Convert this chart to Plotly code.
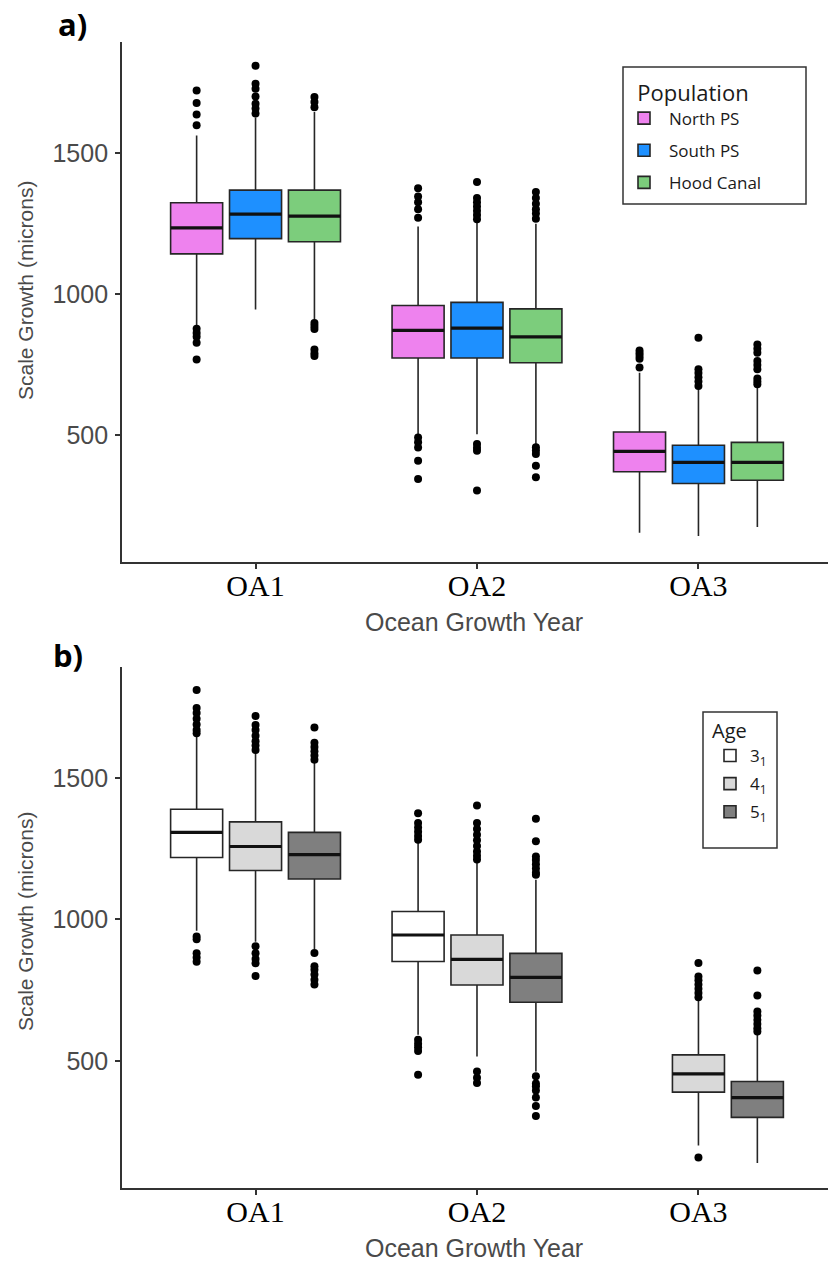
import plotly.graph_objects as go

# ---------------- data ----------------
years = ["OA1", "OA2", "OA3"]

# Panel a) populations
populations = ["North PS", "South PS", "Hood Canal"]
population_colors = ["#EE82EE", "#1E90FF", "#7CCD7C"]

# per year (OA1, OA2, OA3): [lower whisker, Q1, median, Q3, upper whisker]
north_ps_box = [[890, 1142, 1234, 1323, 1562],
                [500, 773, 871, 959, 1239],
                [154, 370, 442, 511, 721]]
north_ps_outliers = [[1721, 1677, 1636, 1598, 877, 862, 848, 827, 768],
                     [1375, 1345, 1325, 1300, 1270, 491, 474, 456, 409, 344],
                     [800, 790, 780, 770, 739]]

south_ps_box = [[945, 1196, 1283, 1368, 1625],
                [503, 773, 879, 970, 1257],
                [142, 328, 403, 464, 662]]
south_ps_outliers = [[1809, 1745, 1727, 1700, 1674, 1657, 1640],
                     [1397, 1340, 1325, 1310, 1295, 1280, 1265, 468, 455, 444, 303],
                     [845, 733, 720, 705, 690, 674]]

hood_canal_box = [[909, 1185, 1276, 1368, 1645],
                  [468, 756, 848, 947, 1249],
                  [174, 340, 403, 474, 670]]
hood_canal_outliers = [[1698, 1680, 1662, 897, 886, 876, 803, 790, 780],
                       [1361, 1340, 1320, 1300, 1285, 1267, 457, 445, 433, 391, 350],
                       [821, 806, 792, 762, 748, 733, 700, 690, 680]]

# Panel b) ages
ages = ["3<sub>1</sub>", "4<sub>1</sub>", "5<sub>1</sub>"]
age_colors = ["#FFFFFF", "#D9D9D9", "#7F7F7F"]

age3_box = [[960, 1219, 1308, 1390, 1647],
            [592, 851, 945, 1028, 1276],
            None]
age3_outliers = [[1812, 1748, 1730, 1710, 1690, 1670, 1659, 940, 930, 880, 865, 850],
                 [1376, 1341, 1325, 1310, 1295, 1282, 574, 560, 548, 535, 451],
                 []]

age4_box = [[921, 1173, 1258, 1345, 1594],
            [515, 768, 859, 945, 1211],
            [200, 389, 454, 521, 716]]
age4_outliers = [[1720, 1688, 1670, 1650, 1630, 1615, 1599, 905, 880, 860, 845, 800],
                 [1403, 1341, 1320, 1300, 1280, 1260, 1240, 1225, 1212, 462, 440, 421],
                 [846, 798, 785, 770, 755, 740, 725, 158]]

age5_box = [[895, 1143, 1229, 1308, 1555],
            [462, 707, 795, 880, 1140],
            [138, 300, 370, 427, 598]]
age5_outliers = [[1679, 1625, 1610, 1595, 1580, 1565, 881, 834, 822, 805, 787, 770],
                 [1356, 1277, 1223, 1210, 1195, 1180, 1165, 1158, 445, 420, 410, 395, 370, 340, 305],
                 [819, 731, 674, 660, 645, 630, 615, 604]]

y_ticks = [500, 1000, 1500]

# ---------------- style ----------------
W, H = 828, 1266
BOX_W = 0.235
DODGE = 0.266
LINE = "#262626"
AX = "#333333"
TXT = "#4a4a4a"
SANS = "Liberation Sans, Arial, sans-serif"
SERIF = "Liberation Serif, Times New Roman, serif"
LEG = "Open Sans, sans-serif"

fig = go.Figure()


def add_panel(names, colors, boxes, outliers, xa, ya, legend):
    n = len(names)
    for k in range(n):
        off = (k - (n - 1) / 2) * DODGE
        xs, lo, q1, med, q3, hi = [], [], [], [], [], []
        ox, oy = [], []
        mx, my = [], []
        for j, b in enumerate(boxes[k]):
            if b is None:
                continue
            x = j + 1 + off
            xs.append(x)
            lo.append(b[0]); q1.append(b[1]); med.append(b[2]); q3.append(b[3]); hi.append(b[4])
            for v in outliers[k][j]:
                ox.append(x)
                oy.append(v)
            mx += [x - BOX_W / 2, x + BOX_W / 2, None]
            my += [b[2], b[2], None]
        fig.add_trace(go.Box(
            x=xs, q1=q1, median=med, q3=q3, lowerfence=lo, upperfence=hi,
            width=BOX_W, whiskerwidth=0, boxpoints=False,
            fillcolor=colors[k], line=dict(color=LINE, width=1.6),
            name=names[k], legend=legend, legendgroup=legend + str(k),
            xaxis=xa, yaxis=ya, hoverinfo="skip"))
        fig.add_trace(go.Scatter(
            x=mx, y=my, mode="lines", line=dict(color="#111111", width=3.2),
            showlegend=False, hoverinfo="skip", xaxis=xa, yaxis=ya))
        fig.add_trace(go.Scatter(
            x=ox, y=oy, mode="markers",
            marker=dict(color="black", size=8, line=dict(width=0)),
            showlegend=False, hoverinfo="skip", xaxis=xa, yaxis=ya))


add_panel(populations, population_colors,
          [north_ps_box, south_ps_box, hood_canal_box],
          [north_ps_outliers, south_ps_outliers, hood_canal_outliers],
          "x", "y", "legend")
add_panel(ages, age_colors,
          [age3_box, age4_box, age5_box],
          [age3_outliers, age4_outliers, age5_outliers],
          "x2", "y2", "legend2")

x_dom = [122 / W, 1.0]
x_rng = [0.397, 3.585]
y_rng = [50, 1893]


def xaxis_style(anchor):
    return dict(domain=x_dom, range=x_rng, anchor=anchor,
                tickvals=[1, 2, 3], ticktext=years,
                showline=True, linecolor=AX, linewidth=1.8,
                ticks="outside", ticklen=5, tickwidth=1.5, tickcolor=AX,
                showgrid=False, zeroline=False, automargin=False,
                tickfont=dict(family=SERIF, size=30, color="black"),
                ticklabelstandoff=-9, fixedrange=True)


def yaxis_style(dom, anchor):
    return dict(domain=dom, range=y_rng, anchor=anchor,
                tickvals=y_ticks, ticktext=[str(v) for v in y_ticks],
                showline=True, linecolor=AX, linewidth=1.8,
                ticks="outside", ticklen=5, tickwidth=1.5, tickcolor=AX,
                showgrid=False, zeroline=False, automargin=False,
                tickfont=dict(family=SANS, size=25, color=TXT),
                ticklabelstandoff=2, fixedrange=True)


def legend_style(x, y, title, tsize, gap, iw, side):
    return dict(x=x, y=y, xanchor="left", yanchor="top",
                bgcolor="rgba(0,0,0,0)", borderwidth=0,
                font=dict(family=LEG, size=17, color="#1a1a1a"),
                title=dict(text=title, side=side,
                           font=dict(family=LEG, size=tsize, color="#1a1a1a")),
                tracegroupgap=gap, itemwidth=iw,
                itemclick=False, itemdoubleclick=False)


annotations = []
for txt, px, py in [("a)", 72, 24), ("b)", 68, 655)]:
    annotations.append(dict(text=txt, x=px / W, y=1 - py / H, xref="paper", yref="paper",
                            showarrow=False, xanchor="center", yanchor="middle",
                            font=dict(family=LEG, size=31, color="black", weight=700)))
for py in [291, 922]:
    annotations.append(dict(text="Scale Growth (microns)", x=25 / W, y=1 - py / H,
                            xref="paper", yref="paper", showarrow=False, textangle=-90,
                            xanchor="center", yanchor="middle",
                            font=dict(family=SANS, size=21, color=TXT)))
for py in [622, 1248]:
    annotations.append(dict(text="Ocean Growth Year", x=474 / W, y=1 - py / H,
                            xref="paper", yref="paper", showarrow=False,
                            xanchor="center", yanchor="middle",
                            font=dict(family=SANS, size=25, color=TXT)))

# legend frames (px on the page)
shapes = []
for x0, y0, x1, y1 in [(623, 67, 806, 204), (703, 712, 777, 848)]:
    shapes.append(dict(type="rect", xref="paper", yref="paper",
                       x0=x0 / W, x1=x1 / W, y0=1 - y1 / H, y1=1 - y0 / H,
                       line=dict(color=AX, width=1.5), fillcolor="rgba(0,0,0,0)",
                       layer="above"))

fig.update_layout(
    width=W, height=H, margin=dict(l=0, r=0, t=0, b=0),
    paper_bgcolor="white", plot_bgcolor="white",
    boxmode="overlay", hovermode=False,
    xaxis=xaxis_style("y"),
    yaxis=yaxis_style([1 - 562 / H, 1 - 42 / H], "x"),
    xaxis2=xaxis_style("y2"),
    yaxis2=yaxis_style([1 - 1188 / H, 1 - 667 / H], "x2"),
    legend=legend_style(619 / W, 1 - 72 / H, "Population", 22, 7, 40, "top center"),
    legend2=legend_style(710 / W, 1 - 712 / H, "Age", 20, 3, 30, "top"),
    annotations=annotations,
    shapes=shapes,
)

fig.write_html("out.html", config={"displayModeBar": False},
               post_script="document.body.style.margin='0px';"
                           "document.body.style.overflow='hidden';")
